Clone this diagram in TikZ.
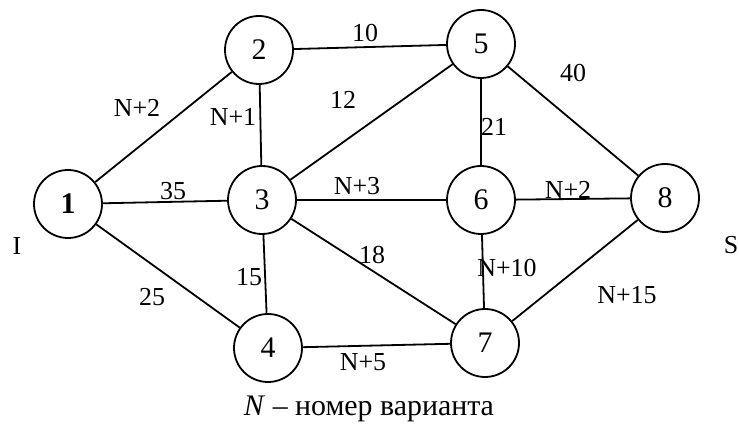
\documentclass[tikz,border=0pt]{standalone}
\usepackage{fontspec}
\setmainfont{Liberation Serif}
\begin{document}
\begin{tikzpicture}[x=0.5bp,y=-0.5bp,
  vert/.style={draw,circle,line width=0.9bp,minimum size=34bp,inner sep=0pt,font=\fontsize{15}{17}\selectfont},
  edge/.style={line width=0.9bp},
  wlab/.style={inner sep=0pt,font=\fontsize{13}{15}\selectfont},
  side/.style={inner sep=0pt,font=\fontsize{13}{15}\selectfont}]
\useasboundingbox (0,0) rectangle (739,430);
\node[vert] (n1) at (68,204) {\bfseries 1};
\node[vert] (n2) at (259,50) {2};
\node[vert] (n3) at (262,200) {3};
\node[vert] (n4) at (268,348) {4};
\node[vert] (n5) at (481,44) {5};
\node[vert] (n6) at (481,200) {6};
\node[vert] (n7) at (485,343) {7};
\node[vert] (n8) at (665,198) {8};
\draw[edge] (n1) -- (n2);
\draw[edge] (n1) -- (n3);
\draw[edge] (n1) -- (n4);
\draw[edge] (n2) -- (n5);
\draw[edge] (n2) -- (n3);
\draw[edge] (n3) -- (n5);
\draw[edge] (n3) -- (n6);
\draw[edge] (n3) -- (n4);
\draw[edge] (n3) -- (n7);
\draw[edge] (n5) -- (n6);
\draw[edge] (n5) -- (n8);
\draw[edge] (n6) -- (n8);
\draw[edge] (n6) -- (n7);
\draw[edge] (n4) -- (n7);
\draw[edge] (n7) -- (n8);
\node[wlab] (l25) at (365,33) {10};
\node[wlab] (l12a) at (137,108) {N+2};
\node[wlab] (l23) at (233,117) {N+1};
\node[wlab] (l35) at (343,100) {12};
\node[wlab] (l58) at (573,73) {40};
\node[wlab] (l56) at (494,127) {21};
\node[wlab] (l13) at (173,191) {35};
\node[wlab] (l36) at (357,186) {N+3};
\node[wlab] (l68) at (568,190) {N+2};
\node[wlab] (l14) at (152,297) {25};
\node[wlab] (l34) at (249,277) {15};
\node[wlab] (l37) at (372,255) {18};
\node[wlab] (l67) at (507,268) {N+10};
\node[wlab] (l78) at (627,295) {N+15};
\node[wlab] (l47) at (363,362) {N+5};
\node[side] (src) at (17,246) {I};
\node[side] (snk) at (731,245) {S};
\node[inner sep=0pt,font=\fontsize{15}{17}\selectfont] (cap) at (369,409) {\textit{N} – номер варианта};
\end{tikzpicture}
\end{document}
